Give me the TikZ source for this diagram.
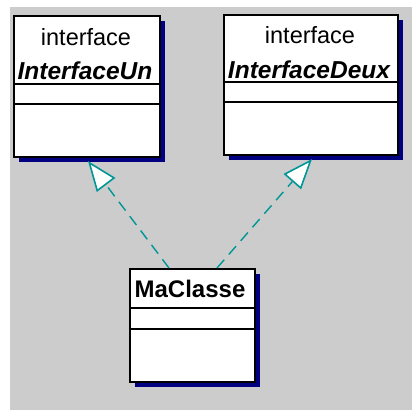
\documentclass[tikz,border=0pt]{standalone}
\usepackage{fontspec}
\setmainfont{Liberation Sans}
\usetikzlibrary{arrows.meta,shadows}
\definecolor{bggray}{RGB}{204,204,204}
\definecolor{navyshadow}{RGB}{0,0,128}
\definecolor{tealline}{RGB}{0,150,150}
\tikzset{
  umlbox/.style={draw=black, line width=1.6pt, fill=white, anchor=north west, inner sep=0pt,
    drop shadow={shadow xshift=5pt, shadow yshift=-5pt, fill=navyshadow, opacity=1}},
  divider/.style={draw=black, line width=1.4pt},
  stereo/.style={font=\fontsize{23.5}{26}\selectfont, inner sep=0pt},
  ifname/.style={font=\fontsize{24.5}{27}\selectfont\bfseries\itshape, inner sep=0pt},
  clname/.style={font=\fontsize{24}{27}\selectfont\bfseries, inner sep=0pt},
  realize/.style={draw=tealline, line width=1.4pt, dash pattern=on 11pt off 7pt,
    -{Triangle[length=30pt, width=23pt, fill=white, line width=1.6pt]}},
}
\begin{document}
\begin{tikzpicture}[x=1pt,y=-1pt]
\useasboundingbox (0,0) rectangle (412,410);
\fill[white] (0,0) rectangle (412,410);
\fill[bggray] (10,7) rectangle (412,410);
% InterfaceUn
\node[umlbox, minimum width=146pt, minimum height=141pt] (b1) at (13,15) {};
\draw[divider] (b1.west |- 0,84) -- (b1.east |- 0,84);
\draw[divider] (b1.west |- 0,104) -- (b1.east |- 0,104);
\node[stereo] (s1) at (86,37) {interface};
\node[ifname] (n1) at (85,71) {InterfaceUn};
% InterfaceDeux
\node[umlbox, minimum width=174pt, minimum height=140pt] (b2) at (223,14) {};
\draw[divider] (b2.west |- 0,82) -- (b2.east |- 0,82);
\draw[divider] (b2.west |- 0,102) -- (b2.east |- 0,102);
\node[stereo] (s2) at (310,35) {interface};
\node[ifname] (n2) at (309,70) {InterfaceDeux};
% MaClasse
\node[umlbox, minimum width=125pt, minimum height=113pt] (b3) at (129,268) {};
\draw[divider] (b3.west |- 0,308) -- (b3.east |- 0,308);
\draw[divider] (b3.west |- 0,329) -- (b3.east |- 0,329);
\node[clname] (n3) at (190,289) {MaClasse};
% connectors
\coordinate (from1) at (169,268);
\coordinate (to1) at (88,161);
\coordinate (from2) at (217,268);
\coordinate (to2) at (312,159);
\draw[realize] (from1) -- (to1);
\draw[realize] (from2) -- (to2);
\end{tikzpicture}
\end{document}
